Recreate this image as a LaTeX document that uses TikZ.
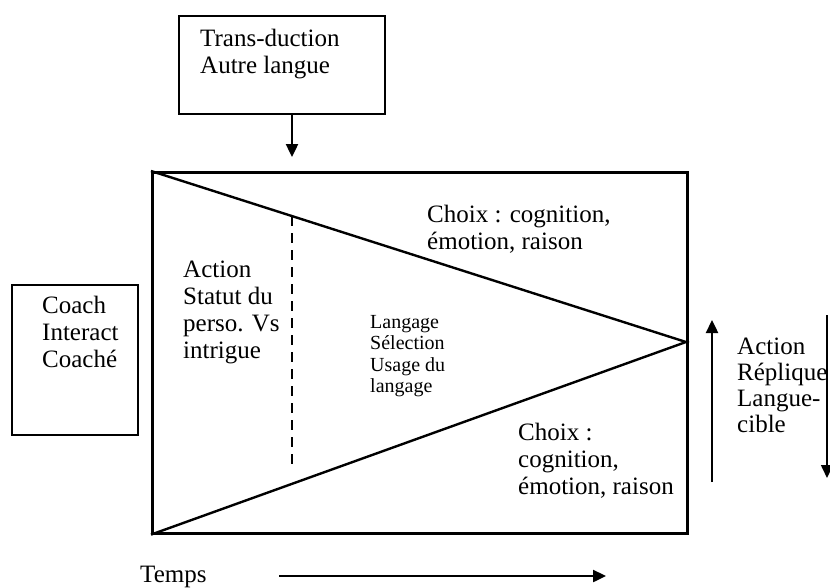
\documentclass[tikz,border=0pt]{standalone}
\usepackage{fontspec}
\setmainfont{Liberation Serif}
\usepackage{tikz}
\usetikzlibrary{arrows.meta,positioning}

\begin{document}
\begin{tikzpicture}[x=1pt, y=-1pt, every node/.style={font=\fontsize{25}{27}\selectfont}, box/.style={draw, line width=2pt, inner sep=0pt, anchor=north west}, txt/.style={inner sep=0pt, anchor=north west, align=left}, small/.style={txt, font=\fontsize{20}{21.5}\selectfont}, edge/.style={line width=2.4pt}, arr/.style={-{Triangle[length=13pt, width=12pt]}, line width=2.4pt}]
\useasboundingbox (0,0) rectangle (830,587);
% boxes
\node[box, minimum width=206pt, minimum height=98pt] (trans) at (178,15) {};
\node[box, minimum width=126pt, minimum height=150pt] (coach) at (11,284) {};
\node[box, line width=2.6pt, minimum width=535pt, minimum height=361pt] (frame) at (151,171) {};
\coordinate (apex) at (686,342);
\coordinate (dtop) at (292,216);
\coordinate (dbot) at (292,468);
% texts
\node[txt] (transtxt) at (200,29) {Trans-duction\\Autre langue};
\node[txt] (coachtxt) at (42,296) {Coach\\Interact\\Coaché};
\node[txt] (statut) at (183,261) {Action\\Statut du\\perso. Vs\\intrigue};
\node[small] (lang) at (370,315) {Langage\\Sélection\\Usage du\\langage};
\node[txt] (choixa) at (427,205) {Choix : cognition,\\émotion, raison};
\node[txt] (choixb) at (518,423) {Choix :\\cognition,\\émotion, raison};
\node[txt, font=\fontsize{25}{26}\selectfont] (replique) at (737,338) {Action\\Réplique\\Langue-\\cible};
\node[txt] (temps) at (140,566) {Temps};
% arrows
\coordinate (ttop) at (trans.south -| 292,0);
\coordinate (tend) at (292,157);
\coordinate (t0) at (279,576);
\coordinate (t1) at (606,576);
\coordinate (u0) at (712,482);
\coordinate (u1) at (712,320);
\coordinate (d0) at (827,315);
\coordinate (d1) at (827,478);
\draw[edge] (frame.north west) -- (apex) -- (frame.south west);
\draw[line width=2pt, dash pattern=on 10pt off 7pt] (dtop) -- (dbot);
\draw[arr] (ttop) -- (tend);
\draw[arr] (t0) -- (t1);
\draw[arr] (u0) -- (u1);
\draw[arr, line width=1.6pt] (d0) -- (d1);
\end{tikzpicture}
\end{document}
